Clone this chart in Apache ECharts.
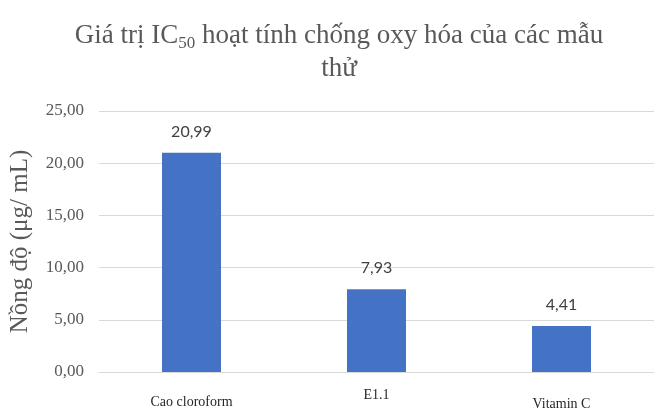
<!DOCTYPE html>
<html>
<head>
<meta charset="utf-8">
<script src="https://cdn.jsdelivr.net/npm/echarts@6/dist/echarts.min.js"></script>
<style>
  html, body { margin: 0; padding: 0; background: #fff; }
  #chart { width: 654px; height: 411px; }
</style>
</head>
<body>
<div id="chart"></div>
<script>
// Mẫu thử và giá trị IC50 (µg/mL)
const categories = ['Cao cloroform', 'E1.1', 'Vitamin C'];
const ic50Values = [20.99, 7.93, 4.41];
const yTicks = [0, 5, 10, 15, 20, 25];

// small vertical offsets of each category label
const labelOffsets = [13, 6, 15];

const serif = '"Liberation Serif", "Times New Roman", serif';
const fmt = v => v.toFixed(2).replace('.', ',');

const rich = {};
labelOffsets.forEach((off, i) => {
  rich['c' + i] = { fontFamily: serif, fontSize: 14, color: '#262626', padding: [off, 0, 0, 0] };
});

const chart = echarts.init(document.getElementById('chart'), null, { renderer: 'canvas' });
chart.setOption({
  animation: false,
  backgroundColor: '#ffffff',
  title: {
    text: 'Giá trị IC{sub|50} hoạt tính chống oxy hóa của các mẫu\nthử',
    left: 334,
    textAlign: 'center',
    top: 14,
    textStyle: {
      fontFamily: serif,
      fontSize: 27,
      fontWeight: 'normal',
      color: '#595959',
      lineHeight: 33,
      rich: {
        sub: { fontFamily: serif, fontSize: 17, color: '#595959', verticalAlign: 'bottom', padding: [12, 0, 0, 0] }
      }
    }
  },
  grid: { left: 99, top: 111, width: 564, height: 268.5, containLabel: false },
  xAxis: {
    type: 'category',
    data: categories,
    axisLine: { show: true, lineStyle: { color: '#d9d9d9', width: 1 } },
    axisTick: { show: false },
    axisLabel: {
      margin: 10,
      interval: 0,
      formatter: (val, idx) => '{c' + idx + '|' + val + '}',
      rich: rich
    }
  },
  yAxis: {
    type: 'value',
    min: yTicks[0],
    max: yTicks[yTicks.length - 1],
    interval: 5,
    name: 'Nồng độ (μg/ mL)',
    nameLocation: 'middle',
    nameGap: 66,
    nameRotate: 90,
    nameTextStyle: { fontFamily: serif, fontSize: 25, color: '#595959' },
    axisLine: { show: false },
    axisTick: { show: false },
    axisLabel: {
      margin: 15,
      fontFamily: serif,
      fontSize: 17,
      color: '#595959',
      formatter: v => fmt(v)
    },
    splitLine: { show: true, lineStyle: { color: '#d9d9d9', width: 1 } }
  },
  series: [{
    type: 'bar',
    data: ic50Values,
    barWidth: 59,
    itemStyle: { color: '#4472c4' },
    label: {
      show: true,
      position: 'top',
      distance: 13,
      fontFamily: 'Lato, "Open Sans", sans-serif',
      fontSize: 16,
      color: '#404040',
      formatter: p => fmt(p.value)
    }
  }]
});
</script>
</body>
</html>
